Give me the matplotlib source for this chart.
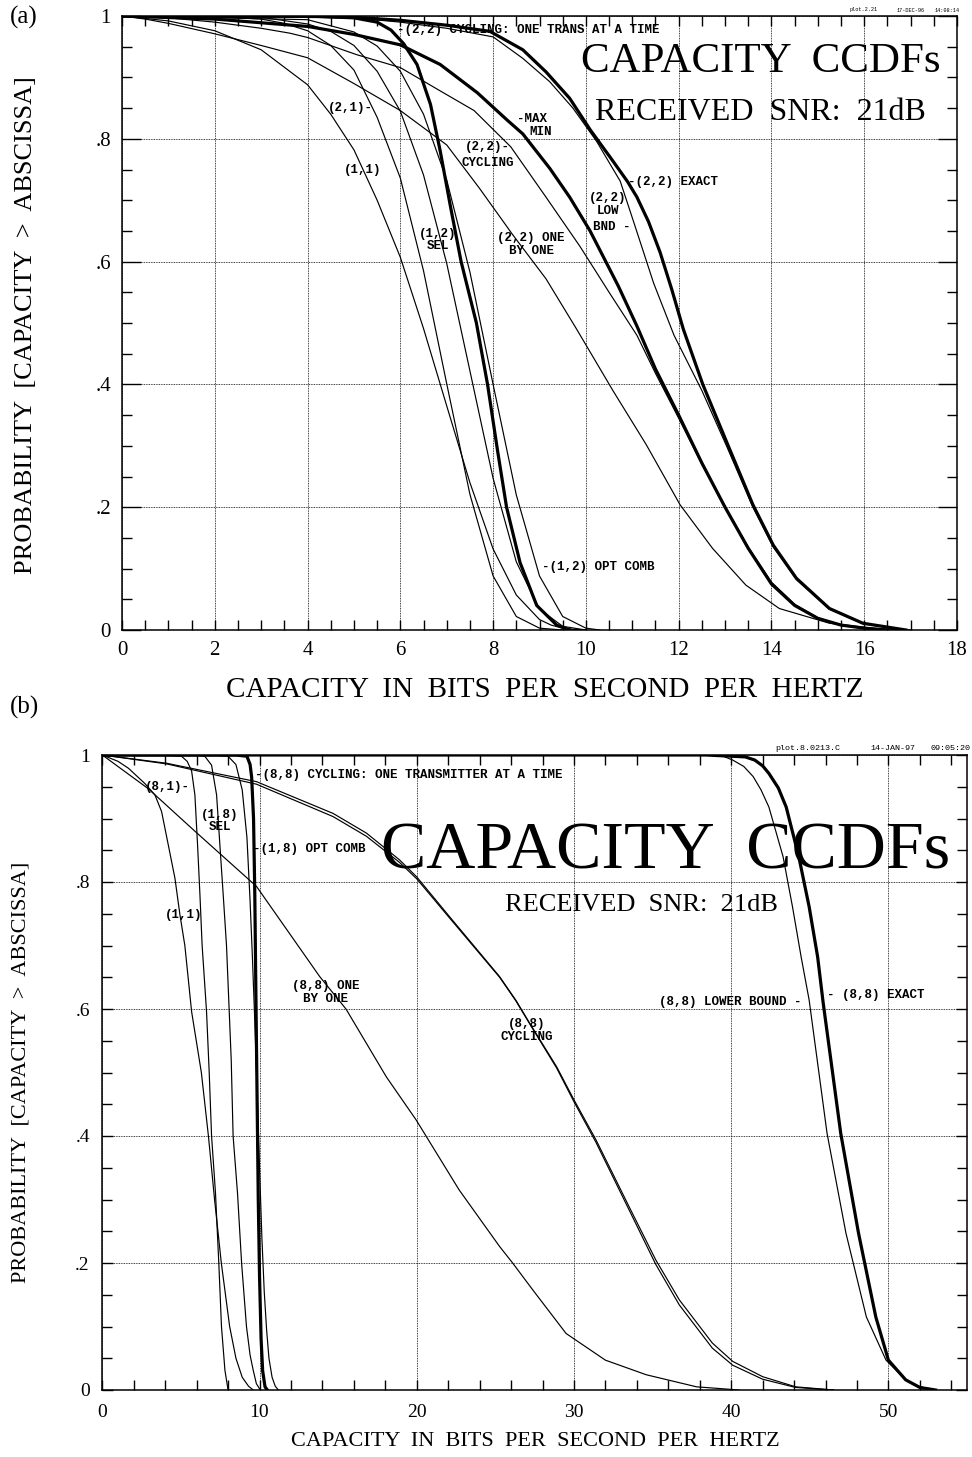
import matplotlib
matplotlib.use("Agg")
import matplotlib.pyplot as plt
from matplotlib.ticker import MultipleLocator

OUT = "out.png"
W, H = 972, 1457
SERIF = ["Liberation Serif", "DejaVu Serif"]
MONO = ["Liberation Mono", "DejaVu Sans Mono"]
THIN = 0.85
THICK = 2.3

# ── panel (a): 21 dB, (n_t, n_r) up to 2 ─────────────────────
A11_X = [0, 1, 2, 3, 4, 4.5, 5, 5.5, 6, 6.5, 7, 7.5, 8, 8.5, 9, 9.25, 9.5, 9.75, 10]
A11_Y = [1, 0.992, 0.976, 0.945, 0.888, 0.84, 0.782, 0.70, 0.607, 0.491, 0.365, 0.24,
         0.132, 0.057, 0.017, 0.008, 0.003, 0.001, 0]
A21_X = [0, 2, 3, 3.5, 4, 4.5, 5, 5.5, 6, 6.5, 7, 7.5, 8, 8.5, 9, 9.5]
A21_Y = [1, 0.999, 0.995, 0.988, 0.976, 0.952, 0.912, 0.835, 0.736, 0.585, 0.401, 0.221,
         0.088, 0.022, 0.003, 0]
ASEL_X = [0, 3, 4, 4.5, 5, 5.5, 6, 6.5, 7, 7.5, 8, 8.5, 9, 9.5, 10]
ASEL_Y = [1, 0.998, 0.987, 0.975, 0.952, 0.91, 0.845, 0.741, 0.597, 0.422, 0.247, 0.111,
          0.034, 0.006, 0]
AOPT_X = [0, 4, 5, 5.5, 6, 6.5, 7, 7.5, 8, 8.5, 9, 9.5, 10, 10.3]
AOPT_Y = [1, 0.994, 0.974, 0.951, 0.910, 0.840, 0.733, 0.583, 0.40, 0.22, 0.088, 0.022,
          0.003, 0]
AONE_TX_X = [0, 4, 5, 5.5, 5.8, 6.07, 6.36, 6.65, 6.86, 7.08, 7.31, 7.64, 7.88, 8.1, 8.29,
             8.58, 8.94, 9.37, 9.65]
AONE_TX_Y = [1, 1, 0.997, 0.99, 0.977, 0.955, 0.921, 0.856, 0.78, 0.69, 0.60, 0.50, 0.40,
             0.29, 0.20, 0.11, 0.04, 0.008, 0]
AMAXMIN_X = [0, 2, 4, 5, 6, 6.86, 7.66, 8.31, 8.64, 9.22, 9.65, 10.09, 10.7, 11.1, 11.5,
             12, 12.5, 13, 13.5, 14, 14.5, 15, 15.5, 16, 16.5]
AMAXMIN_Y = [1, 0.995, 0.983, 0.97, 0.953, 0.921, 0.875, 0.83, 0.808, 0.752, 0.705, 0.65,
             0.56, 0.495, 0.425, 0.35, 0.272, 0.2, 0.133, 0.075, 0.04, 0.019, 0.008,
             0.003, 0]
ACYC_X = [0, 1, 2, 3, 3.62, 4, 5.06, 6, 6.86, 7.59, 8.38, 9.14, 9.87, 10.5, 11.1, 11.5, 12,
          12.5, 13, 13.5, 14, 14.5, 15, 15.5, 16, 16.5]
ACYC_Y = [1, 0.997, 0.99, 0.98, 0.972, 0.965, 0.937, 0.916, 0.878, 0.846, 0.787, 0.705,
          0.625, 0.55, 0.48, 0.418, 0.345, 0.27, 0.2, 0.135, 0.078, 0.042, 0.02, 0.008,
          0.003, 0]
AOBO_X = [0, 0.5, 1, 2, 3, 4, 5, 6, 7, 7.7, 8.42, 9.14, 9.8, 10.59, 11.3, 12.03, 12.73,
          13.45, 14.17, 15.25, 16.3, 17]
AOBO_Y = [1, 0.995, 0.988, 0.971, 0.952, 0.932, 0.89, 0.846, 0.79, 0.72, 0.644, 0.572,
          0.49, 0.389, 0.302, 0.204, 0.133, 0.073, 0.035, 0.011, 0.002, 0]
AEXACT_X = [0, 4, 5, 6, 7, 7.93, 8.64, 9.14, 9.65, 10.09, 10.59, 10.9, 11.1, 11.35, 11.6,
            11.85, 12.1, 12.52, 13.03, 13.6, 14.04, 14.54, 15.25, 15.97, 16.9]
AEXACT_Y = [1, 1, 0.998, 0.993, 0.985, 0.975, 0.945, 0.909, 0.866, 0.815, 0.763, 0.73,
            0.705, 0.665, 0.615, 0.555, 0.49, 0.40, 0.307, 0.204, 0.138, 0.084, 0.035,
            0.011, 0]
ALOW_X = [0, 5, 6, 7, 8, 8.64, 9.22, 9.72, 10.23, 10.74, 11.05, 11.46, 11.9, 12.5, 13.03,
          13.6, 14.04, 14.54, 15.25, 16, 16.9]
ALOW_Y = [1, 0.997, 0.99, 0.98, 0.966, 0.931, 0.893, 0.85, 0.796, 0.731, 0.66, 0.565, 0.48,
          0.39, 0.30, 0.2, 0.135, 0.082, 0.034, 0.01, 0]

# ── panel (b): 21 dB, up to 8 antennas ─────────────────────
B11_X = [0, 1, 1.67, 2.71, 3.35, 3.77, 4.2, 4.62, 4.94, 5.25, 5.68, 6.3, 6.75, 7.14, 7.57,
         8.1, 8.5, 8.9, 9.3, 9.6]
B11_Y = [1, 0.99, 0.979, 0.955, 0.937, 0.911, 0.858, 0.806, 0.748, 0.70, 0.596, 0.50, 0.40,
         0.30, 0.20, 0.10, 0.05, 0.02, 0.006, 0]
B81_X = [0, 4, 5.04, 5.4, 5.68, 5.89, 6.06, 6.21, 6.35, 6.63, 6.8, 6.95, 7.2, 7.41, 7.58,
         7.8, 8.0]
B81_Y = [1, 1, 0.998, 0.99, 0.975, 0.937, 0.858, 0.78, 0.70, 0.596, 0.50, 0.40, 0.31, 0.20,
         0.10, 0.031, 0]
BSEL_X = [0, 6, 6.52, 6.95, 7.27, 7.48, 7.69, 7.9, 8.2, 8.32, 8.6, 8.86, 9.17, 9.4, 9.6,
          9.8, 10.05]
BSEL_Y = [1, 1, 0.998, 0.984, 0.937, 0.858, 0.78, 0.70, 0.52, 0.40, 0.31, 0.20, 0.10, 0.055,
          0.031, 0.01, 0]
BOPT_X = [0, 7.0, 8.0, 8.5, 8.9, 9.2, 9.4, 9.55, 9.7, 9.85, 10.0, 10.15, 10.3, 10.45, 10.6,
          10.8, 11.0, 11.2]
BOPT_Y = [1, 1, 0.998, 0.985, 0.945, 0.87, 0.77, 0.68, 0.58, 0.47, 0.35, 0.24, 0.155, 0.095,
          0.05, 0.02, 0.006, 0]
BONE_TX_X = [0, 8.5, 9.2, 9.4, 9.5, 9.62, 9.7, 9.78, 9.85, 9.92, 10.0, 10.1, 10.2, 10.35,
             10.5]
BONE_TX_Y = [1, 1, 0.998, 0.985, 0.965, 0.9, 0.78, 0.6, 0.45, 0.3, 0.18, 0.08, 0.03, 0.005, 0]
BOBO_X = [0, 2.92, 5.89, 9.81, 13.83, 15.5, 18.07, 19.97, 22.7, 25.27, 26.1, 27.4, 29.5, 32,
          34.6, 37.8, 40.5]
BOBO_Y = [1, 0.947, 0.88, 0.793, 0.651, 0.60, 0.493, 0.425, 0.315, 0.226, 0.2, 0.157, 0.089,
          0.047, 0.024, 0.005, 0]
BCYC_X = [0, 4.09, 9.81, 14.68, 16.8, 18.9, 20, 22.1, 25.27, 26.3, 27.2, 28.9, 30, 31.4,
          33.5, 35.2, 36.7, 38.8, 40.1, 42, 44.1, 46.5]
BCYC_Y = [1, 0.987, 0.958, 0.908, 0.877, 0.835, 0.808, 0.745, 0.651, 0.614, 0.577, 0.509,
          0.457, 0.394, 0.289, 0.205, 0.142, 0.074, 0.045, 0.021, 0.005, 0]
BCYC2_Y = [1, 0.986, 0.954, 0.903, 0.872, 0.831, 0.805, 0.743, 0.650, 0.613, 0.576, 0.507,
           0.454, 0.390, 0.284, 0.198, 0.134, 0.066, 0.039, 0.017, 0.004, 0]
BLOW_X = [0, 30, 38.8, 39.5, 40.1, 40.8, 41.4, 41.9, 42.4, 43.3, 43.9, 44.45, 44.96, 46.1,
          47.3, 48.6, 49.85, 51.1, 52, 53]
BLOW_Y = [1, 1, 1.0, 0.998, 0.992, 0.982, 0.966, 0.945, 0.918, 0.84, 0.761, 0.682, 0.614,
          0.404, 0.247, 0.115, 0.047, 0.016, 0.005, 0]
BEXACT_X = [0, 30, 38.4, 40.9, 41.5, 42.0, 42.4, 43.0, 43.5, 44.3, 44.96, 45.5, 45.85, 46.97,
            48.1, 49.2, 50.0, 51.1, 52, 53]
BEXACT_Y = [1, 1, 1.0, 0.997, 0.992, 0.983, 0.971, 0.948, 0.918, 0.84, 0.761, 0.682, 0.61,
            0.404, 0.247, 0.115, 0.047, 0.016, 0.004, 0]

A_CURVES = [
    (A11_X, A11_Y, THIN), (A21_X, A21_Y, THIN), (ASEL_X, ASEL_Y, THIN),
    (AOPT_X, AOPT_Y, THIN), (AONE_TX_X, AONE_TX_Y, THICK), (AMAXMIN_X, AMAXMIN_Y, THICK),
    (ACYC_X, ACYC_Y, THIN), (AOBO_X, AOBO_Y, THIN), (AEXACT_X, AEXACT_Y, THICK),
    (ALOW_X, ALOW_Y, THIN),
]
B_CURVES = [
    (B11_X, B11_Y, THIN), (B81_X, B81_Y, THIN), (BSEL_X, BSEL_Y, THIN),
    (BOPT_X, BOPT_Y, THIN), (BONE_TX_X, BONE_TX_Y, THICK), (BOBO_X, BOBO_Y, THIN),
    (BCYC_X, BCYC_Y, THIN), (BCYC_X, BCYC2_Y, THIN), (BLOW_X, BLOW_Y, THIN),
    (BEXACT_X, BEXACT_Y, THICK),
]

# (text, x, y, ha)
A_NOTES = [
    ("-(2,2) CYCLING: ONE TRANS AT A TIME", 5.93, 0.977, "left"),
    ("(2,1)-", 5.41, 0.85, "right"),
    ("(1,1)", 5.19, 0.749, "center"),
    ("(1,2)\nSEL", 6.81, 0.635, "center"),
    ("(2,2)-", 8.36, 0.787, "right"),
    ("CYCLING", 7.88, 0.76, "center"),
    ("-MAX", 8.51, 0.832, "left"),
    ("MIN", 8.79, 0.811, "left"),
    ("(2,2) ONE\nBY ONE", 8.82, 0.628, "center"),
    ("-(2,2) EXACT", 10.9, 0.73, "left"),
    ("(2,2)\nLOW", 10.47, 0.693, "center"),
    ("BND -", 10.15, 0.656, "left"),
    ("-(1,2) OPT COMB", 9.05, 0.103, "left"),
]
B_NOTES = [
    ("-(8,8) CYCLING: ONE TRANSMITTER AT A TIME", 9.7, 0.969, "left"),
    ("(8,1)-", 5.57, 0.95, "right"),
    ("(1,8)\nSEL", 7.49, 0.896, "center"),
    ("-(1,8) OPT COMB", 9.6, 0.852, "left"),
    ("(1,1)", 5.2, 0.748, "center"),
    ("(8,8) ONE\nBY ONE", 14.2, 0.626, "center"),
    ("(8,8)\nCYCLING", 26.98, 0.566, "center"),
    ("(8,8) LOWER BOUND -", 44.5, 0.611, "right"),
    ("- (8,8) EXACT", 46.1, 0.622, "left"),
]

Y_TICKS = [0, 0.2, 0.4, 0.6, 0.8, 1.0]
Y_LABELS = ["0", ".2", ".4", ".6", ".8", "1"]
A_XTICKS = [0, 2, 4, 6, 8, 10, 12, 14, 16, 18]
B_XTICKS = [0, 10, 20, 30, 40, 50]


def fx(px):
    return px / W


def fy(py):
    return 1 - py / H


def style(ax, xmax, xticks, xminor, tick_fs, ymaj_len, padx, pady):
    ax.set_xlim(0, xmax)
    ax.set_ylim(0, 1)
    ax.set_xticks(xticks, labels=[str(t) for t in xticks])
    ax.xaxis.set_minor_locator(MultipleLocator(xminor))
    ax.set_yticks(Y_TICKS, labels=Y_LABELS)
    ax.yaxis.set_minor_locator(MultipleLocator(0.05))
    ax.grid(True, which="major", color="k", lw=0.6, ls=(0, (1, 1)))
    ax.tick_params(which="both", direction="in", top=True, right=True, width=1.0,
                   colors="k")
    ax.tick_params(axis="x", which="major", length=7, pad=padx)
    ax.tick_params(axis="y", which="major", length=ymaj_len, pad=pady)
    ax.tick_params(which="minor", length=7)
    for lab in ax.get_xticklabels() + ax.get_yticklabels():
        lab.set_family(SERIF)
        lab.set_fontsize(tick_fs)
    for sp in ax.spines.values():
        sp.set_linewidth(1.1)


fig = plt.figure(figsize=(W / 100, H / 100), dpi=100)
fig.patch.set_facecolor("white")

ax_a = fig.add_axes([fx(122), fy(630), (957 - 122) / W, (630 - 16) / H])
ax_b = fig.add_axes([fx(102.3), fy(1390), (967 - 102.3) / W, (1390 - 755) / H])

for ax, curves, notes in [(ax_a, A_CURVES, A_NOTES), (ax_b, B_CURVES, B_NOTES)]:
    for xs, ys, lw in curves:
        ax.plot(xs, ys, color="k", lw=lw, solid_joinstyle="round", zorder=3)
    for txt, x, y, ha in notes:
        ax.text(x, y, txt, ha=ha, va="center", fontsize=9, family=MONO,
                fontweight="bold", multialignment="center", linespacing=1.05, zorder=4)

style(ax_a, 18, A_XTICKS, 0.5, 15, 14, 8, 8)
style(ax_b, 55, B_XTICKS, 2, 14, 8, 10, 9)

# ── titles and labels ──────────────────────────────────────
fig.text(fx(10), fy(17), "(a)", family=SERIF, fontsize=18, ha="left", va="center")
fig.text(fx(10), fy(707), "(b)", family=SERIF, fontsize=18, ha="left", va="center")

fig.text(fx(761), fy(62), "CAPACITY  CCDFs", family=SERIF, fontsize=31,
         ha="center", va="center")
fig.text(fx(760), fy(112), "RECEIVED  SNR:  21dB", family=SERIF, fontsize=23,
         ha="center", va="center")
fig.text(fx(666), fy(852), "CAPACITY  CCDFs", family=SERIF, fontsize=49,
         ha="center", va="center")
fig.text(fx(641), fy(905), "RECEIVED  SNR:  21dB", family=SERIF, fontsize=19,
         ha="center", va="center")

fig.text(fx(545), fy(690), "CAPACITY  IN  BITS  PER  SECOND  PER  HERTZ", family=SERIF,
         fontsize=21, ha="center", va="center")
fig.text(fx(26), fy(325), "PROBABILITY  [CAPACITY  >  ABSCISSA]", family=SERIF,
         fontsize=19, rotation=90, ha="center", va="center")
fig.text(fx(535), fy(1442), "CAPACITY  IN  BITS  PER  SECOND  PER  HERTZ", family=SERIF,
         fontsize=16, ha="center", va="center")
fig.text(fx(21), fy(1072), "PROBABILITY  [CAPACITY  >  ABSCISSA]", family=SERIF,
         fontsize=16, rotation=90, ha="center", va="center")

# plotter stamps
for txt, px in [("plot.2.21", 850), ("17-DEC-96", 897), ("14:08:14", 935)]:
    fig.text(fx(px), fy(10), txt, family=MONO, fontsize=3.8, ha="left", va="center")
for txt, px in [("plot.8.0213.C", 775), ("14-JAN-97", 870), ("09:05:20", 930)]:
    fig.text(fx(px), fy(748), txt, family=MONO, fontsize=6, ha="left", va="center")

fig.savefig(OUT, dpi=100, facecolor="white")
plt.close(fig)
